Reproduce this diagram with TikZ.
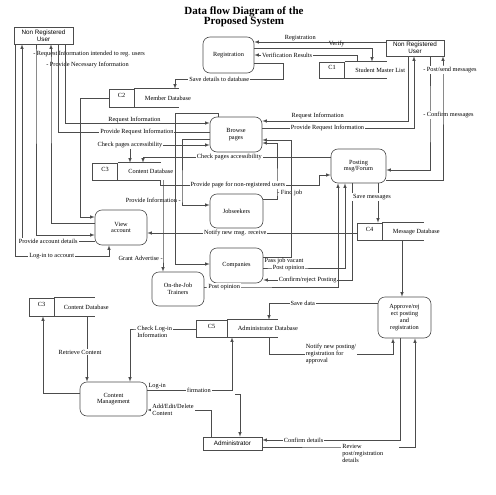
\documentclass[tikz,border=0pt]{standalone}
\usepackage{fontspec}
\setmainfont{Liberation Serif}
\newfontfamily\arialfont{Liberation Sans}
\usetikzlibrary{positioning}

\begin{document}
\begin{tikzpicture}[x=1pt, y=-1pt, >=latex, line width=0.6pt,
		font=\fontsize{6.3}{6.8}\selectfont,
		proc/.style = {draw=black!70, rounded corners=7pt, align=center, minimum width=53pt, minimum height=34pt, inner sep=1pt},
		ent/.style = {draw=black!70, align=center, inner sep=0pt, font=\arialfont\fontsize{6.3}{6.8}\selectfont},
		sid/.style = {draw=black!70, minimum width=25pt, minimum height=17pt, inner sep=0pt, text depth=5pt},
		lbl/.style = {fill=white, inner sep=1pt},
		txt/.style = {inner sep=1pt},
		flow/.style = {draw=black!70, ->},
		wire/.style = {draw=black!70}]
		\useasboundingbox (0,0) rectangle (495,495);
		\node[font=\fontsize{11}{10.5}\selectfont\bfseries, align=center] (title) at (244,17) {Data flow Diagram of the\\Proposed System};
		% users, processes
		\node[ent, minimum width=59pt, minimum height=17pt] (nruL) at (43.5,35.5) {Non Registered\\User};
		\node[ent, minimum width=58pt, minimum height=16pt] (nruR) at (415,48) {Non Registered\\User};
		\node[proc, minimum width=51pt, minimum height=36pt] (reg) at (228.5,55) {Registration};
		\node[proc, minimum width=52pt, minimum height=35pt] (browse) at (236,134.5) {Browse\\pages};
		\node[proc] (jobs) at (236.5,211) {Jobseekers};
		\node[proc, minimum height=35pt] (comp) at (236.5,265.5) {Companies};
		\node[proc, minimum width=52pt] (ojt) at (178,289) {On-the-Job\\Trainers};
		\node[proc, minimum width=52pt, minimum height=35pt] (view) at (121,227.5) {View\\account};
		\node[proc, minimum width=55pt] (post) at (358.5,166) {Posting\\msg/Forum};
		\node[proc, minimum height=41pt] (appr) at (404.5,317.5) {Approve/rej\\ect posting\\and\\registration};
		\node[proc, minimum width=67pt] (cm) at (113.5,399) {Content\\Management};
		\node[ent, minimum width=59pt, minimum height=13pt] (admin) at (232.5,443.5) {Administrator};
		% data stores
		\node[sid, minimum height=16pt] (c1) at (332,70) {C1};
		\node (c1n) [right=7pt of c1] {Student Master List};
		\draw[wire] (c1.north east) -- ++(42,0) (c1.south east) -- ++(42,0);
		\node[sid, minimum height=18pt] (c2) at (121.5,98) {C2};
		\node (c2n) [right=7pt of c2] {Member Database};
		\draw[wire] (c2.north east) -- ++(45,0) (c2.south east) -- ++(45,0);
		\node[sid] (c3a) at (105,171.5) {C3};
		\node (c3an) [right=7pt of c3a] {Content Database};
		\draw[wire] (c3a.north east) -- ++(43,0) (c3a.south east) -- ++(43,0);
		\node[sid] (c4) at (369.5,231.5) {C4};
		\node (c4n) [right=7pt of c4] {Message Database};
		\draw[wire] (c4.north east) -- ++(42,0) (c4.south east) -- ++(42,0);
		\node[sid, minimum width=31pt] (c5) at (211.5,328.5) {C5};
		\node (c5n) [right=7pt of c5] {Administrator Database};
		\draw[wire] (c5.north east) -- ++(51,0) (c5.south east) -- ++(51,0);
		\node[sid, minimum height=18pt] (c3b) at (41.5,307) {C3};
		\node (c3bn) [right=6pt of c3b] {Content Database};
		\draw[wire] (c3b.north east) -- ++(41,0) (c3b.south east) -- ++(41,0);
		% registration
		\draw[flow] (nruR.west |- 0,42) -- node[txt, above=-0.5pt, pos=0.65] {Registration} (reg.east |- 0,42);
		\draw[flow] (reg.east |- 0,48) -- node[txt, above=-0.5pt, pos=0.7] {Verify} (372,48) -- (c1.north -| 372,0);
		\draw[flow] (c1.north -| 357,0) |- node[lbl, pos=0.84] {Verification Results} (reg.east |- 0,55);
		\draw[flow] (reg.east |- 0,63) -- (283,63) -- (283,79) -- node[lbl, pos=0.59] {Save details to database} (175,79) -- (c2.north -| 175,0);
		% left user
		\draw[flow] (nruL.south -| 15,0) -- (15,256) -- node[lbl, pos=0.39] {Log-in to account} (109,256) -- (view.south -| 109,0);
		\draw[flow] (view.west |- 0,241) -- node[lbl, pos=0.64] {Provide account details} (22,241) -- (nruL.south -| 22,0);
		\draw[flow] (nruL.south -| 36,0) -- (36,54) node[txt, anchor=west, xshift=-4pt] {- Request Information intended to reg. users} -- (36,235) -- (view.west |- 0,235);
		\draw[flow] (view.west |- 0,223) -- (51,223) -- (51,65) node[txt, anchor=west, xshift=-6pt] {- Provide Necessary Information} -- (nruL.south -| 51,0);
		\draw[wire] (browse.west |- 0,132) -- node[lbl, pos=0.48] {Provide Request Information} (58,132) -- (nruL.south -| 58,0);
		\draw[flow] (nruL.south -| 65,0) -- (65,123) -- node[txt, above=-1pt, pos=0.48] {Request Information} (browse.west |- 0,123);
		\draw[flow] (c2.west) -| (80,217) -- (view.west |- 0,217);
		% browse pages
		\draw[flow, <->] (c3a.north -| 130,0) |- node[lbl, pos=0.5] {Check pages accessibility} (browse.west |- 0,145);
		\draw[flow] (post.west |- 0,157) -- node[lbl, pos=0.54] {Check pages accessibility} (143,157) -- (c3a.north -| 143,0);
		\draw[flow] (browse.west |- 0,139) -- (182,139) -- (182,200) node[txt, anchor=east] {Provide Information -} -- (182,205) -- (jobs.west |- 0,205);
		\draw[flow] (jobs.east |- 0,199) -- (277,199) -- (277,193) node[txt, anchor=west, xshift=-1pt] {- Find job} -- (277,143) -- (browse.east |- 0,143);
		\draw[flow] (c3a.south -| 160,0) -- (160,185) -- node[lbl, pos=0.49] {Provide page for non-registered users} (319,185) -- (319,175) -- (post.west |- 0,175);
		\draw[flow] (c3a.south -| 163,0) -- (163,258) node[txt, anchor=east, xshift=1pt] {Grant Advertise -} -- (ojt.north -| 163,0);
		\draw[flow] (browse.north -| 218,0) -- (218,113) -- (175,113) -- (175,264) -- (comp.west |- 0,264);
		\draw[flow] (nruR.south -| 408,0) -- (408,121) -- node[txt, above=0.5pt, pos=0.62] {Request Information} (browse.east |- 0,121);
		\draw[flow] (browse.east |- 0,128) -- node[lbl, pos=0.43] {Provide Request Information} (414,128) -- (nruR.south -| 414,0);
		% posting
		\draw[flow] (nruR.south -| 430,0) -- (430,115) node[lbl, anchor=west, xshift=-8pt] {- Confirm messages} -- (430,170) -- (post.east |- 0,170);
		\draw[flow] (post.east |- 0,180) -- (443,180) -- (443,70) node[lbl, anchor=west, xshift=-21pt] {- Post/send messages} -- (nruR.south -| 443,0);
		\draw[flow] (c4.west |- 0,233) -- node[lbl, pos=0.58] {Notify new msg. receive} (view.east |- 0,233);
		\draw[flow] (post.south -| 352,0) -- (352,280) -- node[lbl, pos=0.5] {Confirm/reject Posting} (comp.east |- 0,280);
		\draw[flow] (comp.east |- 0,268) -- (272,268) node[lbl, anchor=west, inner sep=0.5pt] {Post opinion} -- (345,268) -- (post.south -| 345,0);
		\draw[flow] (comp.east |- 0,257) -- node[txt, pos=0, anchor=north west] {Pass job vacant} (291,257) -- (291,140) -- (browse.east |- 0,140);
		\draw[flow] (ojt.east |- 0,287) -- (207,287) node[lbl, anchor=west] {Post opinion} -- (338,287) -- (post.south -| 338,0);
		\draw[flow] (post.south -| 378,0) -- node[lbl, pos=0.35, xshift=-6pt] {Save messages} (c4.north -| 378,0);
		\draw[flow] (c4.south -| 402,0) -- (appr.north -| 402,0);
		% approval and administrator
		\draw[flow] (appr.west |- 0,303) -- node[lbl, pos=0.69] {Save data} (269,303) -- (c5.north -| 269,0);
		\draw[flow] (c5.south -| 269,0) -- (269,354) -- node[lbl, align=left, pos=0.5] {Notify new posting/\\registration for\\approval} (393,354) -- (appr.south -| 393,0);
		\draw[flow] (c5.west |- 0,329) -- (136,329) node[lbl, anchor=west, align=left, yshift=-3pt] {Check Log-in\\Information} -- (130,329) -- (cm.north -| 130,0);
		\draw[flow] (c3b.south -| 87,0) -- node[lbl, pos=0.55, xshift=-7pt] {Retrieve Content} (cm.north -| 87,0);
		\draw[flow] (cm.west |- 0,393) -| (c3b.south -| 43,0);
		\draw[flow] (cm.east |- 0,390) -- node[txt, pos=0, anchor=south west] {Log-in} node[lbl, pos=0.61] {firmation} (232,390) -- (c5.south -| 232,0);
		\coordinate (cf) at (235,394);
		\draw[flow] (cf) -| (admin.north -| 240,0);
		\draw[flow] (admin.north -| 211,0) -- (211,410) -- (151,410) node[lbl, anchor=west, align=left] {Add/Edit/Delete\\Content} -- (cm.east |- 0,410);
		\draw[flow] (appr.south -| 400,0) -- (400,440) -- node[lbl, pos=0.7] {Confirm details} (admin.east |- 0,440);
		\draw[flow] (admin.east |- 0,447) -- (341,447) node[lbl, anchor=north west, align=left, yshift=3.5pt, text width=56pt] {Review\\post/registration\\details} -- (415,447) -- (appr.south -| 415,0);
	\end{tikzpicture}
\end{document}
